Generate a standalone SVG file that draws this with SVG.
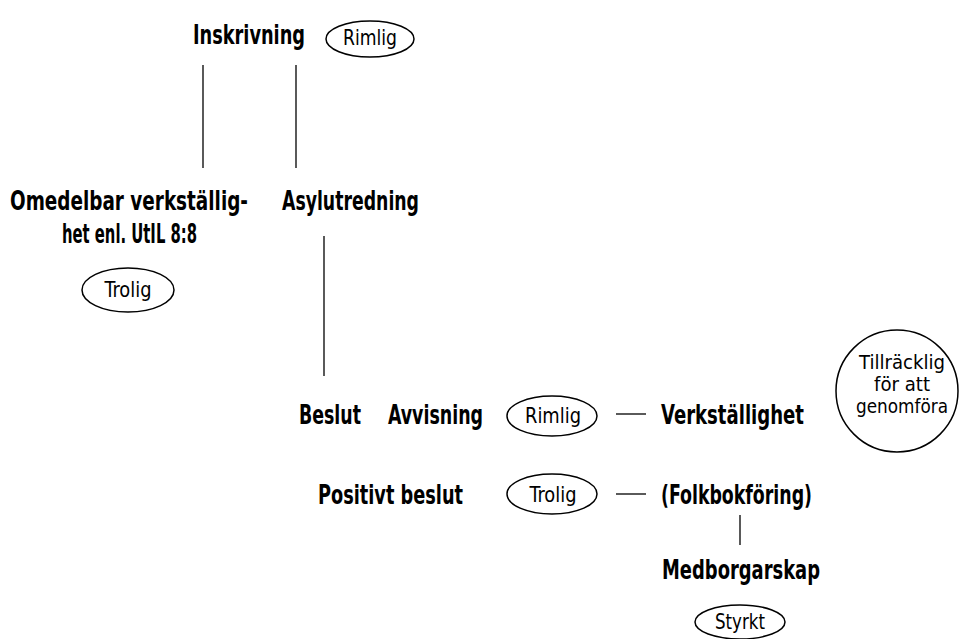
<svg xmlns="http://www.w3.org/2000/svg" width="961" height="639" viewBox="0 0 961 639">
<style>
.t{font-family:"DejaVu Sans Condensed","Liberation Sans Narrow","Liberation Sans",sans-serif;font-stretch:condensed;font-weight:bold;font-size:27px;fill:#000}
.s{font-family:"DejaVu Sans Condensed","Liberation Sans Narrow","Liberation Sans",sans-serif;font-stretch:condensed;font-size:22px;fill:#000}
.m{font-family:"DejaVu Sans Condensed","Liberation Sans Narrow","Liberation Sans",sans-serif;font-stretch:condensed;font-size:19px;fill:#000}
.o{fill:#fff;stroke:#000;stroke-width:1.5}
.c{stroke:#000;stroke-width:1.3;fill:none}
</style>
<rect width="961" height="639" fill="#fff"/>
<g id="connectors">
<line class="c" x1="203" y1="65" x2="203" y2="168"/>
<line class="c" x1="296" y1="65" x2="296" y2="168"/>
<line class="c" x1="324" y1="236" x2="324" y2="376"/>
<line class="c" x1="616" y1="414" x2="646" y2="414"/>
<line class="c" x1="616" y1="494" x2="646" y2="494"/>
<line class="c" x1="740" y1="515" x2="740" y2="545"/>
</g>
<g id="inskrivning"><text class="t" x="193" y="44" textLength="112" lengthAdjust="spacingAndGlyphs">Inskrivning</text></g>
<g id="rimlig1"><ellipse class="o" cx="370" cy="39" rx="44" ry="18"/><text class="s" x="370" y="45" text-anchor="middle" textLength="54" lengthAdjust="spacingAndGlyphs">Rimlig</text></g>
<g id="omedelbar"><text class="t" x="10" y="210" textLength="238" lengthAdjust="spacingAndGlyphs">Omedelbar verkställig-</text><text class="t" x="62" y="243" textLength="135" lengthAdjust="spacingAndGlyphs">het enl. UtIL 8:8</text></g>
<g id="trolig1"><ellipse class="o" cx="128" cy="290" rx="46" ry="22"/><text class="s" x="128" y="297" text-anchor="middle" textLength="47" lengthAdjust="spacingAndGlyphs">Trolig</text></g>
<g id="asylutredning"><text class="t" x="282" y="210" textLength="137" lengthAdjust="spacingAndGlyphs">Asylutredning</text></g>
<g id="beslut"><text class="t" x="299" y="424" textLength="62" lengthAdjust="spacingAndGlyphs">Beslut</text></g>
<g id="avvisning"><text class="t" x="388" y="424" textLength="95" lengthAdjust="spacingAndGlyphs">Avvisning</text></g>
<g id="rimlig2"><ellipse class="o" cx="552" cy="416" rx="45" ry="20"/><text class="s" x="553" y="423" text-anchor="middle" textLength="56" lengthAdjust="spacingAndGlyphs">Rimlig</text></g>
<g id="verkstallighet"><text class="t" x="661" y="424" textLength="143" lengthAdjust="spacingAndGlyphs">Verkställighet</text></g>
<g id="tillracklig"><circle class="o" cx="897" cy="391" r="61"/><text class="m" x="902" y="369" text-anchor="middle" textLength="86" lengthAdjust="spacingAndGlyphs">Tillräcklig</text><text class="m" x="902" y="391" text-anchor="middle" textLength="56" lengthAdjust="spacingAndGlyphs">för att</text><text class="m" x="902" y="413" text-anchor="middle" textLength="92" lengthAdjust="spacingAndGlyphs">genomföra</text></g>
<g id="positivt"><text class="t" x="318" y="504" textLength="145" lengthAdjust="spacingAndGlyphs">Positivt beslut</text></g>
<g id="trolig2"><ellipse class="o" cx="552" cy="494" rx="45" ry="20"/><text class="s" x="553" y="502" text-anchor="middle" textLength="47" lengthAdjust="spacingAndGlyphs">Trolig</text></g>
<g id="folkbokforing"><text class="t" x="661" y="504" textLength="151" lengthAdjust="spacingAndGlyphs">(Folkbokföring)</text></g>
<g id="medborgarskap"><text class="t" x="662" y="579" textLength="158" lengthAdjust="spacingAndGlyphs">Medborgarskap</text></g>
<g id="styrkt"><ellipse class="o" cx="740" cy="622" rx="45" ry="17"/><text class="s" x="740" y="629" text-anchor="middle" textLength="50" lengthAdjust="spacingAndGlyphs">Styrkt</text></g>
</svg>
